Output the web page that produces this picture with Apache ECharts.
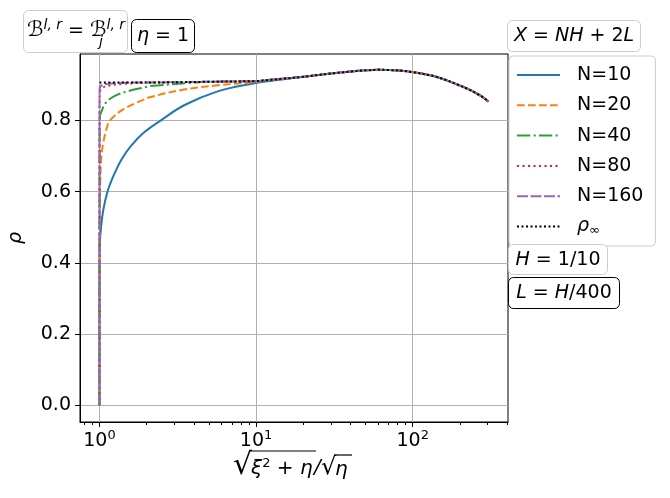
<!DOCTYPE html>
<html>
<head>
<meta charset="utf-8">
<script src="https://cdn.jsdelivr.net/npm/echarts@6.0.0/dist/echarts.min.js"></script>
<style>
html, body { margin: 0; padding: 0; background: #fff; }
#chart { width: 670px; height: 498px; }
</style>
</head>
<body>
<div id="chart"></div>
<script>
var FONT = 'DejaVu Sans'

var seriesNames = ['N=10', 'N=20', 'N=40', 'N=80', 'N=160', 'ρ∞']
var colors = ['#1f77b4', '#ff7f0e', '#2ca02c', '#d62728', '#9467bd', '#000000']
var dashes = ['solid', [7.7, 3.3], [13.3, 3.3, 2.1, 3.3], [2.1, 3.4], [11, 2.5], [2, 2.5]]

// rho_inf, every N collapses onto it for large x
var tailX = [1, 2, 5, 10, 12, 15.2, 20, 24.9, 30, 40.6, 50, 60, 70, 85, 103.5, 120, 139, 165, 196, 225, 251, 280, 305]
var rhoInf = [0.907, 0.907, 0.909, 0.911, 0.914, 0.918, 0.923, 0.928, 0.932, 0.938, 0.941, 0.9425, 0.942, 0.940, 0.935, 0.930, 0.924, 0.913, 0.900, 0.889, 0.878, 0.866, 0.853]

// finite N, part near x = 1 before joining rho_inf
var n10X = [1, 1.001, 1.007, 1.023, 1.059, 1.125, 1.23, 1.38, 1.585, 1.905, 2.455, 3.47, 5.68, 9.29, 12.6, 17.8]
var n10Rho = [0, 0.40, 0.46, 0.50, 0.55, 0.60, 0.645, 0.69, 0.728, 0.765, 0.80, 0.843, 0.882, 0.903, 0.912, 0.920]
var n20X = [1, 1.002, 1.008, 1.025, 1.055, 1.12, 1.176, 1.40, 1.745, 2.12, 3.47, 5.68, 9.29, 11]
var n20Rho = [0, 0.45, 0.60, 0.69, 0.736, 0.783, 0.802, 0.830, 0.851, 0.866, 0.887, 0.899, 0.907, 0.911]
var n40X = [1, 1.002, 1.007, 1.04, 1.093, 1.236, 1.505, 1.92, 2.12, 3.65, 5]
var n40Rho = [0, 0.75, 0.811, 0.830, 0.849, 0.868, 0.882, 0.893, 0.897, 0.905, 0.909]
var n80X = [1, 1.001, 1.0035, 1.04, 1.147, 1.43, 2.02, 3]
var n80Rho = [0, 0.80, 0.877, 0.891, 0.898, 0.903, 0.907, 0.908]
var n160X = [1, 1.001, 1.0023, 1.04, 1.2, 1.65]
var n160Rho = [0, 0.85, 0.889, 0.900, 0.904, 0.907]

var majorTicksX = [1, 10, 100]
var minorTicksX = [0.8, 0.9, 2, 3, 4, 5, 6, 7, 8, 9, 20, 30, 40, 50, 60, 70, 80, 90, 200, 300, 400]
var ticksY = [0, 0.2, 0.4, 0.6, 0.8]

function joinTail(xs, ys) {
  var pts = xs.map((x, i) => [x, ys[i]])
  var last = xs[xs.length - 1]
  tailX.forEach((x, i) => {
    if (x > last) pts.push([x, rhoInf[i]])
  })
  return pts
}

var datas = [
  joinTail(n10X, n10Rho),
  joinTail(n20X, n20Rho),
  joinTail(n40X, n40Rho),
  joinTail(n80X, n80Rho),
  joinTail(n160X, n160Rho),
  tailX.map((x, i) => [x, rhoInf[i]])
]

var series = seriesNames.map((name, i) => {
  return {
    name: name,
    type: 'line',
    data: datas[i],
    symbol: 'none',
    smooth: 0.35,
    color: colors[i],
    lineStyle: { color: colors[i], width: 2, type: dashes[i] }
  }
})

var it = { fontFamily: FONT, fontStyle: 'italic', fontSize: 19, color: '#000' }
var nt = { fontFamily: FONT, fontSize: 19, color: '#000' }

function boxText(x, y, text) {
  return {
    type: 'text', x: x, y: y, z: 20,
    style: { text: text, align: 'center', verticalAlign: 'middle', rich: { i: it, n: nt } }
  }
}
function box(x, y, w, h, stroke) {
  return {
    type: 'rect', z: 19,
    shape: { x: x, y: y, width: w, height: h, r: 5 },
    style: { fill: '#fff', stroke: stroke, lineWidth: 1 }
  }
}

var chart = echarts.init(document.getElementById('chart'))
chart.setOption({
  animation: false,
  grid: {
    left: 80, right: 162, top: 54, bottom: 76,
    show: true, borderColor: '#000', borderWidth: 1
  },
  legend: {
    orient: 'vertical',
    left: 509, top: 56,
    backgroundColor: '#fff',
    borderColor: '#cccccc', borderWidth: 1, borderRadius: 4,
    padding: [9, 12, 9, 7],
    itemWidth: 43, itemHeight: 14, itemGap: 10.3,
    itemStyle: { opacity: 0 },
    data: seriesNames,
    formatter: name => name === 'ρ∞' ? '{i|ρ}{s|∞}' : name,
    textStyle: {
      fontFamily: FONT, fontSize: 19, color: '#000', lineHeight: 20,
      padding: [0, 0, 0, 12],
      rich: {
        i: { fontFamily: FONT, fontStyle: 'italic', fontSize: 19, color: '#000' },
        s: { fontFamily: FONT, fontSize: 13, color: '#000', padding: [8, 0, 0, 0] }
      }
    }
  },
  xAxis: [
    {
      type: 'log', logBase: 10, min: 0.751, max: 406, position: 'bottom',
      axisLine: { show: true, onZero: false, lineStyle: { color: '#000', width: 1 } },
      axisTick: { show: true, length: 5, lineStyle: { color: '#000' }, customValues: majorTicksX },
      axisLabel: {
        customValues: majorTicksX,
        margin: 7,
        formatter: v => '{b|10}{s|' + Math.round(Math.log10(v)) + '}',
        rich: {
          b: { fontFamily: FONT, fontSize: 19, color: '#000' },
          s: { fontFamily: FONT, fontSize: 13, color: '#000', padding: [0, 0, 11, 0] }
        }
      },
      splitLine: { show: true, lineStyle: { color: '#b0b0b0', width: 1 } }
    },
    {
      type: 'log', logBase: 10, min: 0.751, max: 406, position: 'bottom',
      axisLine: { show: false, onZero: false },
      axisLabel: { show: false },
      splitLine: { show: false },
      axisTick: { show: true, length: 3, lineStyle: { color: '#000' }, customValues: minorTicksX }
    }
  ],
  yAxis: {
    type: 'value', min: -0.047, max: 0.987,
    axisLine: { show: true, lineStyle: { color: '#000', width: 1 } },
    axisTick: { show: true, length: 5, lineStyle: { color: '#000' }, customValues: ticksY },
    axisLabel: {
      customValues: ticksY, margin: 9,
      formatter: v => v.toFixed(1),
      fontFamily: FONT, fontSize: 19, color: '#000'
    },
    splitLine: { show: true, lineStyle: { color: '#b0b0b0', width: 1 } }
  },
  series: series,
  graphic: [
    // y axis name
    {
      type: 'text', x: 16, y: 238, rotation: Math.PI / 2,
      style: { text: 'ρ', align: 'center', verticalAlign: 'middle', fontFamily: FONT, fontStyle: 'italic', fontSize: 19, fill: '#000' }
    },
    box(23.5, 10.5, 104, 42, '#cccccc'),
    {
      type: 'text', x: 27, y: 31, z: 20,
      style: {
        text: '{c|ℬ}{p|l, r}{n| = }{c|ℬ}{p|l, r}', verticalAlign: 'middle',
        rich: {
          c: { fontFamily: FONT, fontSize: 21, color: '#000' },
          n: nt,
          p: { fontFamily: FONT, fontStyle: 'italic', fontSize: 14, color: '#000', padding: [0, 0, 12, 0] }
        }
      }
    },
    { type: 'text', x: 99, y: 42, z: 20, style: { text: 'j', verticalAlign: 'middle', fontFamily: FONT, fontStyle: 'italic', fontSize: 14, fill: '#000' } },
    box(131.5, 19.5, 63, 33, '#000'),
    boxText(163, 36, '{i|η}{n| = 1}'),
    box(507.5, 20.5, 133, 31, '#cccccc'),
    boxText(574, 36, '{i|X}{n| = }{i|NH}{n| + 2}{i|L}'),
    box(508.5, 244.5, 99, 30, '#cccccc'),
    boxText(558, 260, '{i|H}{n| = 1/10}'),
    box(508.5, 277.5, 111, 31, '#000'),
    boxText(564, 293, '{i|L}{n| = }{i|H}{n|/400}'),
    // x axis name: sqrt(xi^2 + eta) / sqrt(eta)
    { type: 'text', x: 233, y: 466, style: { text: '√', verticalAlign: 'middle', fontFamily: FONT, fontSize: 30, fill: '#000' } },
    { type: 'line', shape: { x1: 249, y1: 451, x2: 316, y2: 451 }, style: { stroke: '#000', lineWidth: 1.2 } },
    {
      type: 'text', x: 251, y: 469,
      style: {
        text: '{i|ξ}{s|2}{n| + }{i|η}', verticalAlign: 'middle',
        rich: {
          i: { fontFamily: FONT, fontStyle: 'italic', fontSize: 20, color: '#000' },
          n: { fontFamily: FONT, fontSize: 20, color: '#000' },
          s: { fontFamily: FONT, fontSize: 13, color: '#000', padding: [0, 0, 11, 0] }
        }
      }
    },
    { type: 'text', x: 314, y: 468, style: { text: '/', verticalAlign: 'middle', fontFamily: FONT, fontStyle: 'italic', fontSize: 20, fill: '#000' } },
    { type: 'text', x: 321, y: 468, style: { text: '√', verticalAlign: 'middle', fontFamily: FONT, fontSize: 24, fill: '#000' } },
    { type: 'line', shape: { x1: 334, y1: 455, x2: 352, y2: 455 }, style: { stroke: '#000', lineWidth: 1.2 } },
    { type: 'text', x: 335, y: 470, style: { text: 'η', verticalAlign: 'middle', fontFamily: FONT, fontStyle: 'italic', fontSize: 20, fill: '#000' } }
  ]
})
</script>
</body>
</html>
